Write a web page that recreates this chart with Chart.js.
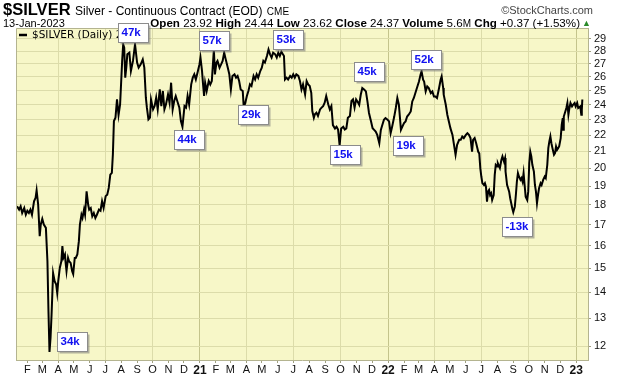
<!DOCTYPE html>
<html>
<head>
<meta charset="utf-8">
<script src="https://cdn.jsdelivr.net/npm/chart.js@4.4.1/dist/chart.umd.min.js"></script>
<style>
  html, body { margin:0; padding:0; background:#fff; }
  #wrap { position:relative; width:620px; height:376px; overflow:hidden; }
  canvas { position:absolute; left:0; top:0; }
  .t { position:absolute; white-space:nowrap; font-family:"Liberation Sans", Arial, sans-serif; color:#000; }
  .b { font-weight:bold; }
</style>
</head>
<body>
<div id="wrap">
  <canvas id="c" width="620" height="376"></canvas>
  <div class="t" style="left:3px; top:1px; line-height:17px;"><span class="b" style="font-size:16.5px;">$SILVER</span> <span style="font-size:12px;">Silver - Continuous Contract (EOD)</span> <span style="font-size:10px;">CME</span></div>
  <div class="t" style="right:27px; top:3px; font-size:11px; color:#444; line-height:14px;">©StockCharts.com</div>
  <div class="t" style="left:3px; top:17px; font-size:11px; line-height:13px;">13-Jan-2023</div>
  <div class="t" style="right:40px; top:16px; font-size:11.6px; line-height:14px;"><span class="b">Open</span> 23.92 <span class="b">High</span> 24.44 <span class="b">Low</span> 23.62 <span class="b">Close</span> 24.37 <span class="b">Volume</span> 5.6<span style="font-size:10px;">M</span> <span class="b">Chg</span> +0.37 (+1.53%)</div>
  <div class="t" style="left:582px; top:18px; font-size:9px; color:#2a8a2a; line-height:10px;">▲</div>
</div>
<script>
// ---------- DATA ----------
const dates = [
 "2020-01-12","2020-01-16","2020-01-19","2020-01-22","2020-01-26","2020-01-29","2020-02-01","2020-02-04","2020-02-07","2020-02-10",
 "2020-02-14","2020-02-17","2020-02-19","2020-02-22","2020-02-25","2020-02-27","2020-03-01","2020-03-04","2020-03-08","2020-03-11",
 "2020-03-13","2020-03-15","2020-03-17","2020-03-19","2020-03-22","2020-03-25","2020-03-28","2020-03-30","2020-04-01","2020-04-04",
 "2020-04-07","2020-04-09","2020-04-11","2020-04-14","2020-04-15","2020-04-17","2020-04-20","2020-04-22","2020-04-25","2020-04-28",
 "2020-04-30","2020-05-03","2020-05-05","2020-05-08","2020-05-11","2020-05-13","2020-05-16","2020-05-18","2020-05-21","2020-05-23",
 "2020-05-26","2020-05-29","2020-05-31","2020-06-03","2020-06-06","2020-06-09","2020-06-12","2020-06-15","2020-06-19","2020-06-22",
 "2020-06-25","2020-06-28","2020-07-02","2020-07-05","2020-07-08","2020-07-11","2020-07-14","2020-07-16","2020-07-18","2020-07-21",
 "2020-07-24","2020-07-27","2020-07-30","2020-08-03","2020-08-05","2020-08-07","2020-08-09","2020-08-11","2020-08-13","2020-08-17",
 "2020-08-20","2020-08-24","2020-08-28","2020-09-01","2020-09-04","2020-09-08","2020-09-12","2020-09-15","2020-09-18","2020-09-20",
 "2020-09-23","2020-09-26","2020-09-28","2020-10-02","2020-10-05","2020-10-08","2020-10-11","2020-10-15","2020-10-18","2020-10-21",
 "2020-10-24","2020-10-27","2020-10-31","2020-11-03","2020-11-06","2020-11-09","2020-11-12","2020-11-15","2020-11-19","2020-11-22",
 "2020-11-25","2020-11-28","2020-12-02","2020-12-05","2020-12-08","2020-12-11","2020-12-15","2020-12-18","2020-12-21","2020-12-24",
 "2020-12-28","2020-12-31","2021-01-02","2021-01-05","2021-01-07","2021-01-09","2021-01-11","2021-01-14","2021-01-18","2021-01-21",
 "2021-01-24","2021-01-28","2021-01-30","2021-02-02","2021-02-04","2021-02-08","2021-02-11","2021-02-14","2021-02-17","2021-02-20",
 "2021-02-24","2021-02-27","2021-03-02","2021-03-05","2021-03-09","2021-03-12","2021-03-15","2021-03-18","2021-03-21","2021-03-25",
 "2021-03-27","2021-03-30","2021-04-02","2021-04-05","2021-04-08","2021-04-11","2021-04-15","2021-04-18","2021-04-21","2021-04-24",
 "2021-04-28","2021-05-01","2021-05-04","2021-05-07","2021-05-11","2021-05-14","2021-05-17","2021-05-20","2021-05-23","2021-05-27",
 "2021-05-30","2021-06-02","2021-06-05","2021-06-08","2021-06-11","2021-06-13","2021-06-15","2021-06-18","2021-06-21","2021-06-25",
 "2021-06-28","2021-07-01","2021-07-04","2021-07-07","2021-07-11","2021-07-14","2021-07-17","2021-07-20","2021-07-24","2021-07-27",
 "2021-07-30","2021-08-02","2021-08-05","2021-08-07","2021-08-10","2021-08-12","2021-08-15","2021-08-18","2021-08-22","2021-08-25",
 "2021-08-28","2021-08-31","2021-09-03","2021-09-07","2021-09-10","2021-09-13","2021-09-16","2021-09-20","2021-09-23","2021-09-26",
 "2021-09-29","2021-10-02","2021-10-06","2021-10-09","2021-10-12","2021-10-15","2021-10-19","2021-10-22","2021-10-25","2021-10-28",
 "2021-10-31","2021-11-04","2021-11-06","2021-11-09","2021-11-12","2021-11-16","2021-11-19","2021-11-22","2021-11-25","2021-11-29",
 "2021-12-02","2021-12-05","2021-12-08","2021-12-11","2021-12-15","2021-12-18","2021-12-21","2021-12-24","2021-12-27","2021-12-31",
 "2022-01-03","2022-01-06","2022-01-09","2022-01-13","2022-01-16","2022-01-19","2022-01-22","2022-01-26","2022-01-29","2022-02-01",
 "2022-02-04","2022-02-07","2022-02-10","2022-02-14","2022-02-17","2022-02-20","2022-02-23","2022-02-26","2022-03-02","2022-03-05",
 "2022-03-07","2022-03-10","2022-03-12","2022-03-15","2022-03-18","2022-03-21","2022-03-25","2022-03-28","2022-03-31","2022-04-03",
 "2022-04-06","2022-04-10","2022-04-13","2022-04-15","2022-04-18","2022-04-19","2022-04-23","2022-04-26","2022-04-29","2022-05-02",
 "2022-05-06","2022-05-09","2022-05-12","2022-05-15","2022-05-19","2022-05-22","2022-05-25","2022-05-28","2022-06-01","2022-06-04",
 "2022-06-07","2022-06-10","2022-06-13","2022-06-15","2022-06-18","2022-06-21","2022-06-25","2022-06-27","2022-06-29","2022-07-01",
 "2022-07-03","2022-07-06","2022-07-08","2022-07-10","2022-07-12","2022-07-14","2022-07-16","2022-07-18","2022-07-20","2022-07-22",
 "2022-07-25","2022-07-27","2022-07-29","2022-08-01","2022-08-02","2022-08-06","2022-08-09","2022-08-11","2022-08-14","2022-08-16",
 "2022-08-17","2022-08-20","2022-08-22","2022-08-24","2022-08-26","2022-08-28","2022-08-30","2022-09-01","2022-09-04","2022-09-06",
 "2022-09-08","2022-09-10","2022-09-12","2022-09-15","2022-09-17","2022-09-19","2022-09-21","2022-09-23","2022-09-25","2022-09-28",
 "2022-09-30","2022-10-02","2022-10-04","2022-10-06","2022-10-08","2022-10-11","2022-10-13","2022-10-15","2022-10-17","2022-10-19",
 "2022-10-21","2022-10-24","2022-10-26","2022-10-29","2022-11-01","2022-11-03","2022-11-06","2022-11-08","2022-11-10","2022-11-12",
 "2022-11-14","2022-11-16","2022-11-19","2022-11-21","2022-11-23","2022-11-25","2022-11-27","2022-11-29","2022-12-02","2022-12-04",
 "2022-12-06","2022-12-07","2022-12-08","2022-12-11","2022-12-13","2022-12-15","2022-12-17","2022-12-19","2022-12-21","2022-12-24",
 "2022-12-26","2022-12-29","2022-12-31","2023-01-03","2023-01-05","2023-01-09","2023-01-11","2023-01-12","2023-01-13"
];
const closes = [
 17.93,17.76,17.93,17.59,17.84,17.50,17.70,17.59,17.76,17.50,
 18.19,18.37,18.77,18.02,16.45,17.01,17.29,17.01,16.85,15.31,
 13.26,11.80,12.28,13.13,14.80,14.46,14.32,13.98,14.46,15.02,
 15.31,15.99,15.46,15.61,15.31,14.88,15.46,15.31,15.24,14.88,
 14.76,15.46,15.46,15.61,16.22,17.01,17.50,17.34,17.76,17.50,
 18.72,18.02,17.76,17.84,17.42,17.59,17.34,17.50,17.76,17.70,
 18.19,17.84,18.46,18.54,18.90,19.64,19.74,20.81,22.90,23.12,
 24.37,23.30,24.02,27.22,28.54,28.27,25.94,26.70,27.74,27.87,
 26.44,27.22,28.54,27.09,26.70,26.95,27.34,26.70,24.49,23.80,
 23.01,23.13,24.37,23.68,23.91,24.49,23.68,25.08,23.91,24.97,
 23.68,24.02,24.72,24.14,25.57,23.68,24.26,24.61,24.14,23.80,
 22.90,22.53,23.91,23.80,24.61,24.02,25.45,25.94,26.19,25.81,
 26.44,26.95,27.48,26.44,25.45,24.61,25.57,24.97,25.70,25.44,
 25.70,28.13,26.19,27.09,27.22,26.70,26.95,27.22,27.87,27.34,
 26.70,26.19,25.08,26.07,26.19,25.94,26.07,25.69,25.08,24.97,
 23.80,24.14,24.61,24.97,25.45,25.33,26.07,25.81,26.19,25.94,
 26.44,26.70,27.22,27.09,27.61,28.13,27.74,27.48,27.87,27.74,
 27.48,27.87,27.61,27.95,27.74,27.61,25.81,25.94,25.81,26.07,
 25.94,26.19,25.94,26.19,26.07,25.69,25.08,25.45,24.72,25.69,
 25.45,25.33,24.84,23.57,23.12,23.35,23.46,23.24,23.68,23.80,
 23.91,24.14,24.61,24.02,23.68,23.91,22.64,22.42,22.53,22.35,
 21.36,22.42,22.53,22.35,22.42,23.12,23.24,24.26,24.37,23.80,
 24.37,24.14,24.00,24.70,25.18,25.06,24.94,24.23,23.44,22.88,
 22.44,22.33,22.22,22.01,21.49,22.33,22.66,22.99,23.10,22.99,
 22.88,22.12,22.55,23.20,23.78,24.47,24.00,22.33,22.55,22.77,
 22.88,23.20,23.32,23.54,24.23,24.47,24.82,25.18,25.66,26.16,
 26.42,25.79,25.66,24.94,25.30,25.18,24.82,24.94,24.58,24.58,
 24.47,25.18,25.79,26.04,25.18,24.70,24.00,23.32,22.88,22.44,
 22.01,21.39,20.79,21.39,21.70,21.70,21.91,21.81,22.01,22.12,
 22.01,21.81,20.97,21.70,21.81,21.49,20.97,20.87,20.01,19.53,
 19.16,19.06,19.16,18.97,18.17,18.70,18.79,18.52,18.61,18.26,
 18.52,19.62,20.20,20.10,20.29,20.01,20.49,20.69,20.39,20.59,
 19.81,19.06,18.88,18.70,18.35,18.09,17.83,17.63,17.91,18.52,
 19.25,19.72,19.53,19.34,19.44,19.25,19.72,19.06,18.43,18.26,
 18.70,20.29,20.97,20.69,20.20,19.81,19.06,18.70,18.09,18.52,
 18.88,19.16,19.06,19.34,19.53,19.44,20.20,21.19,21.60,21.91,
 21.49,21.19,20.79,20.89,21.29,21.09,21.19,21.29,21.81,22.66,
 23.10,22.33,23.20,23.54,23.78,24.12,23.32,23.78,24.12,23.89,
 24.00,24.12,23.89,24.12,23.78,23.89,23.32,23.66,24.37
];
const priceTicks = [12,13,14,15,16,17,18,19,20,21,22,23,24,25,26,27,28,29];
const monthLetters = ["J","F","M","A","M","J","J","A","S","O","N","D"];
const axisStart = "2020-01-10";
const axisEnd = "2023-01-24";
const priceMin = 11.53;
const priceMax = 29.92;

// annotation labels: text, anchor date, anchor price (box top-left corner)
const noteTexts  = ["47k","57k","53k","44k","29k","45k","15k","19k","52k","-13k","34k"];
const noteDates  = ["2020-07-26","2020-12-31","2021-05-22","2020-11-12","2021-03-15","2021-10-26","2021-09-11","2022-01-11","2022-02-14","2022-08-11","2020-03-30"];
const notePrices = [30.34,29.67,29.72,22.35,24.00,27.10,21.37,21.91,28.06,17.41,12.48];

const legendText = "$SILVER (Daily) 24.37";

// ---------- BUILD ----------
const ts = s => Date.parse(s + "T00:00:00Z");
const points = dates.map((d, i) => ({ x: ts(d), y: closes[i] }));

const monthTicks = [];
{
  const a = new Date(ts(axisStart)), b = ts(axisEnd);
  let y = a.getUTCFullYear(), m = a.getUTCMonth() + 1;
  while (true) {
    if (m > 11) { m = 0; y++; }
    const v = Date.UTC(y, m, 1);
    if (v > b) break;
    monthTicks.push(v);
    m++;
  }
}
const tickMonth = c => (c && c.tick) ? new Date(c.tick.value).getUTCMonth() : -1;

const bgPlugin = {
  id: "bg",
  beforeDraw(chart) {
    const { ctx, chartArea: a } = chart;
    ctx.save();
    ctx.fillStyle = "#f7f7c8";
    ctx.fillRect(a.left, a.top, a.right - a.left, a.bottom - a.top);
    ctx.restore();
  }
};

const notePlugin = {
  id: "notes",
  afterDatasetsDraw(chart) {
    const { ctx, chartArea: a, scales } = chart;
    ctx.save();
    // plot frame (top and left edges)
    ctx.strokeStyle = "#b4b490";
    ctx.lineWidth = 1;
    ctx.beginPath();
    ctx.moveTo(Math.round(a.left) + 0.5, Math.round(a.bottom));
    ctx.lineTo(Math.round(a.left) + 0.5, Math.round(a.top) + 0.5);
    ctx.lineTo(Math.round(a.right), Math.round(a.top) + 0.5);
    ctx.stroke();

    // legend inside plot
    ctx.strokeStyle = "#000";
    ctx.lineWidth = 2.5;
    ctx.beginPath();
    ctx.moveTo(a.left + 3, a.top + 7);
    ctx.lineTo(a.left + 11, a.top + 7);
    ctx.stroke();
    ctx.fillStyle = "#000";
    ctx.font = "10.5px 'DejaVu Sans'";
    ctx.textBaseline = "middle";
    ctx.fillText(legendText, a.left + 16, a.top + 7);

    const w = 30, h = 19;
    noteTexts.forEach((t, i) => {
      const x = Math.round(scales.x.getPixelForValue(ts(noteDates[i]))) + 0.5;
      const y = Math.round(scales.y.getPixelForValue(notePrices[i])) + 0.5;
      ctx.fillStyle = "rgba(120,120,120,0.55)";
      ctx.fillRect(x + 2, y + 2, w, h);
      ctx.fillStyle = "#fff";
      ctx.fillRect(x, y, w, h);
      ctx.strokeStyle = "#8c8c8c";
      ctx.lineWidth = 1;
      ctx.strokeRect(x, y, w, h);
      ctx.fillStyle = "#1010f0";
      ctx.font = "bold 11.5px 'Liberation Sans'";
      ctx.textBaseline = "middle";
      ctx.fillText(t, x + 3, y + h / 2);
    });
    ctx.restore();
  }
};

new Chart(document.getElementById("c"), {
  type: "line",
  data: {
    datasets: [{
      data: points,
      borderColor: "#000",
      borderWidth: 2,
      pointRadius: 0,
      tension: 0,
      fill: false
    }]
  },
  options: {
    responsive: false,
    animation: false,
    events: [],
    layout: { padding: { left: 16, top: 28, right: 0, bottom: 0 } },
    plugins: { legend: { display: false }, tooltip: { enabled: false } },
    scales: {
      x: {
        type: "linear",
        min: ts(axisStart),
        max: ts(axisEnd),
        afterBuildTicks: s => { s.ticks = monthTicks.map(v => ({ value: v })); },
        afterFit: s => { s.height = 16; },
        ticks: {
          autoSkip: false,
          maxRotation: 0,
          padding: 0,
          color: "#111",
          callback: v => {
            const d = new Date(v);
            return d.getUTCMonth() === 0 ? String(d.getUTCFullYear()).slice(2) : monthLetters[d.getUTCMonth()];
          },
          font: c => tickMonth(c) === 0
              ? { family: "'Liberation Sans'", size: 12, weight: "bold" }
              : { family: "'Liberation Sans'", size: 11 }
        },
        grid: {
          color: c => {
            const mth = tickMonth(c);
            if (mth === 0) return "#c4c48c";
            if (mth > 0 && mth % 3 === 0) return "#dcdcaa";
            return "rgba(0,0,0,0)";
          },
          tickColor: "#a0a080",
          tickLength: 3,
          drawTicks: true
        },
        border: { color: "#b4b490", width: 1 }
      },
      y: {
        type: "logarithmic",
        position: "right",
        min: priceMin,
        max: priceMax,
        afterBuildTicks: s => { s.ticks = priceTicks.map(v => ({ value: v })); },
        afterFit: s => { s.width = 32; },
        ticks: {
          padding: 3,
          color: "#111",
          font: { family: "'Liberation Sans'", size: 11 },
          callback: v => String(v)
        },
        grid: {
          color: "#dcdcaa",
          tickColor: "#a0a080",
          tickLength: 3
        },
        border: { color: "#b4b490", width: 1 }
      }
    }
  },
  plugins: [bgPlugin, notePlugin]
});
</script>
</body>
</html>
